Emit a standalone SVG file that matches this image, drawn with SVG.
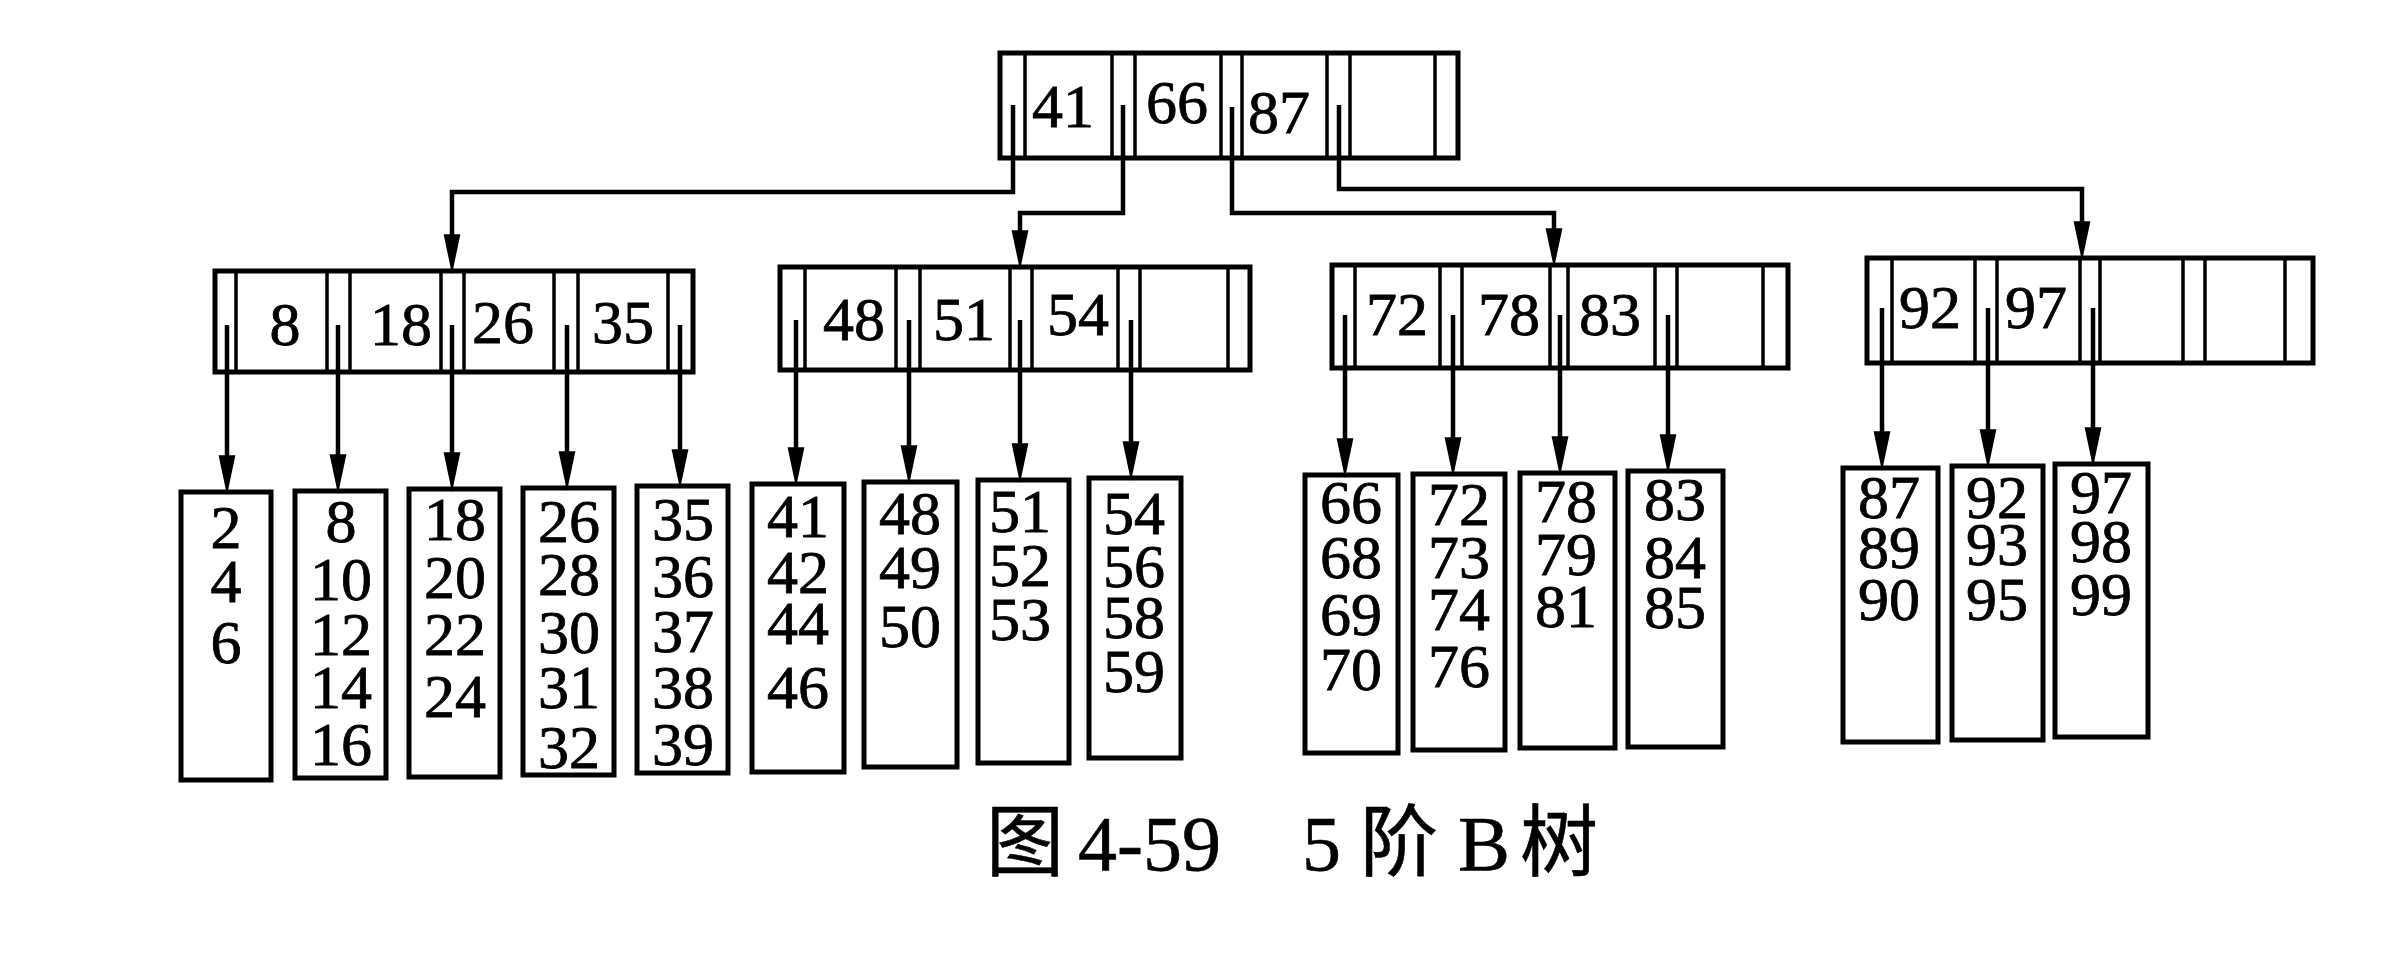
<svg xmlns="http://www.w3.org/2000/svg" width="2384" height="960" viewBox="0 0 2384 960">
<style>
.box{fill:#fff;stroke:#000;stroke-width:5}
.sep{stroke:#000;stroke-width:3.5;fill:none}
.k{font-family:"Liberation Serif","Times New Roman",serif;font-size:62px;text-anchor:middle;fill:#000;stroke:#000;stroke-width:0.8}
.cap{font-family:"Liberation Serif","Noto Sans CJK SC",serif;font-size:78px;fill:#000;stroke:#000;stroke-width:0.6}
.con{fill:none;stroke:#000;stroke-width:4.5;marker-end:url(#arr)}
</style>
<defs>
<marker id="arr" markerUnits="userSpaceOnUse" markerWidth="40" markerHeight="20" viewBox="0 0 38 16" refX="16" refY="8" orient="auto">
<path d="M0,0 L38,8 L0,16 Z" fill="#000"/>
</marker>
</defs>
<rect width="2384" height="960" fill="#fff"/>

<g id="root">
<rect class="box" x="1000" y="53" width="458" height="105"/>
<path class="sep" d="M1025,53V158M1112,53V158M1135,53V158M1221,53V158M1242,53V158M1327,53V158M1350,53V158M1435,53V158"/>
<text class="k" x="1063" y="127">41</text>
<text class="k" x="1177" y="123">66</text>
<text class="k" x="1279" y="133">87</text>
</g>

<g id="nodeA">
<rect class="box" x="215" y="271" width="478" height="101"/>
<path class="sep" d="M236,271V372M327,271V372M350,271V372M441,271V372M464,271V372M554,271V372M578,271V372M668,271V372"/>
<text class="k" x="285" y="345">8</text>
<text class="k" x="401" y="345">18</text>
<text class="k" x="503" y="343">26</text>
<text class="k" x="623" y="343">35</text>
</g>

<g id="nodeB">
<rect class="box" x="780" y="267" width="470" height="103"/>
<path class="sep" d="M805,267V370M896,267V370M920,267V370M1010,267V370M1032,267V370M1118,267V370M1140,267V370M1228,267V370"/>
<text class="k" x="854" y="340">48</text>
<text class="k" x="964" y="340">51</text>
<text class="k" x="1078" y="335">54</text>
</g>

<g id="nodeC">
<rect class="box" x="1332" y="265" width="456" height="103"/>
<path class="sep" d="M1355,265V368M1440,265V368M1462,265V368M1550,265V368M1568,265V368M1655,265V368M1677,265V368M1763,265V368"/>
<text class="k" x="1397" y="335">72</text>
<text class="k" x="1509" y="335">78</text>
<text class="k" x="1610" y="335">83</text>
</g>

<g id="nodeD">
<rect class="box" x="1867" y="258" width="446" height="105"/>
<path class="sep" d="M1892,258V363M1975,258V363M1997,258V363M2080,258V363M2100,258V363M2183,258V363M2205,258V363M2285,258V363"/>
<text class="k" x="1930" y="328">92</text>
<text class="k" x="2036" y="328">97</text>
</g>

<g id="leaf1"><rect class="box" x="181" y="492" width="90" height="288"/>
<text class="k" x="226" y="548">2</text><text class="k" x="226" y="602">4</text><text class="k" x="226" y="663">6</text></g>
<g id="leaf2"><rect class="box" x="295" y="491" width="91" height="287"/>
<text class="k" x="341" y="542">8</text><text class="k" x="341" y="600">10</text><text class="k" x="341" y="655">12</text><text class="k" x="341" y="708">14</text><text class="k" x="341" y="765">16</text></g>
<g id="leaf3"><rect class="box" x="409" y="489" width="91" height="288"/>
<text class="k" x="455" y="540">18</text><text class="k" x="455" y="598">20</text><text class="k" x="455" y="655">22</text><text class="k" x="455" y="717">24</text></g>
<g id="leaf4"><rect class="box" x="523" y="488" width="91" height="287"/>
<text class="k" x="569" y="542">26</text><text class="k" x="569" y="595">28</text><text class="k" x="569" y="653">30</text><text class="k" x="569" y="708">31</text><text class="k" x="569" y="768">32</text></g>
<g id="leaf5"><rect class="box" x="637" y="486" width="91" height="287"/>
<text class="k" x="683" y="540">35</text><text class="k" x="683" y="597">36</text><text class="k" x="683" y="652">37</text><text class="k" x="683" y="708">38</text><text class="k" x="683" y="765">39</text></g>
<g id="leaf6"><rect class="box" x="752" y="484" width="92" height="288"/>
<text class="k" x="798" y="537">41</text><text class="k" x="798" y="593">42</text><text class="k" x="798" y="644">44</text><text class="k" x="798" y="708">46</text></g>
<g id="leaf7"><rect class="box" x="864" y="482" width="93" height="285"/>
<text class="k" x="910" y="534">48</text><text class="k" x="910" y="588">49</text><text class="k" x="910" y="647">50</text></g>
<g id="leaf8"><rect class="box" x="978" y="480" width="91" height="283"/>
<text class="k" x="1020" y="532">51</text><text class="k" x="1020" y="586">52</text><text class="k" x="1020" y="640">53</text></g>
<g id="leaf9"><rect class="box" x="1089" y="478" width="92" height="280"/>
<text class="k" x="1134" y="534">54</text><text class="k" x="1134" y="587">56</text><text class="k" x="1134" y="638">58</text><text class="k" x="1134" y="692">59</text></g>
<g id="leaf10"><rect class="box" x="1305" y="475" width="93" height="278"/>
<text class="k" x="1351" y="523">66</text><text class="k" x="1351" y="578">68</text><text class="k" x="1351" y="635">69</text><text class="k" x="1351" y="690">70</text></g>
<g id="leaf11"><rect class="box" x="1413" y="474" width="92" height="276"/>
<text class="k" x="1459" y="525">72</text><text class="k" x="1459" y="578">73</text><text class="k" x="1459" y="630">74</text><text class="k" x="1459" y="687">76</text></g>
<g id="leaf12"><rect class="box" x="1520" y="473" width="95" height="275"/>
<text class="k" x="1566" y="522">78</text><text class="k" x="1566" y="575">79</text><text class="k" x="1566" y="627">81</text></g>
<g id="leaf13"><rect class="box" x="1628" y="471" width="95" height="276"/>
<text class="k" x="1675" y="520">83</text><text class="k" x="1675" y="578">84</text><text class="k" x="1675" y="628">85</text></g>
<g id="leaf14"><rect class="box" x="1843" y="468" width="95" height="274"/>
<text class="k" x="1889" y="518">87</text><text class="k" x="1889" y="568">89</text><text class="k" x="1889" y="620">90</text></g>
<g id="leaf15"><rect class="box" x="1952" y="466" width="91" height="274"/>
<text class="k" x="1997" y="518">92</text><text class="k" x="1997" y="565">93</text><text class="k" x="1997" y="620">95</text></g>
<g id="leaf16"><rect class="box" x="2055" y="464" width="93" height="273"/>
<text class="k" x="2101" y="513">97</text><text class="k" x="2101" y="562">98</text><text class="k" x="2101" y="615">99</text></g>

<g id="connectors">
<path class="con" d="M1013,105V192H452V251"/>
<path class="con" d="M1123,105V213H1020V247"/>
<path class="con" d="M1232,107V213H1554V245"/>
<path class="con" d="M1339,105V189H2082V238"/>
<path class="con" d="M227,325V472"/>
<path class="con" d="M338,325V471"/>
<path class="con" d="M452,325V469"/>
<path class="con" d="M567,325V468"/>
<path class="con" d="M680,325V466"/>
<path class="con" d="M796,320V464"/>
<path class="con" d="M909,320V462"/>
<path class="con" d="M1020,320V460"/>
<path class="con" d="M1131,320V458"/>
<path class="con" d="M1345,315V455"/>
<path class="con" d="M1453,315V454"/>
<path class="con" d="M1560,315V453"/>
<path class="con" d="M1668,315V451"/>
<path class="con" d="M1882,308V448"/>
<path class="con" d="M1988,308V446"/>
<path class="con" d="M2093,308V444"/>
</g>

<text class="cap" y="870"><tspan x="986">图</tspan><tspan x="1078">4-59</tspan><tspan x="1302">5</tspan><tspan x="1360">阶</tspan><tspan x="1458">B</tspan><tspan x="1520">树</tspan></text>
</svg>
